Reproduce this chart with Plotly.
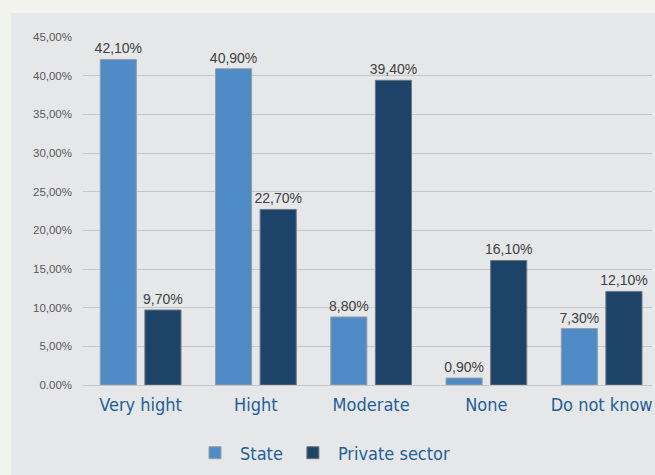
import plotly.graph_objects as go

categories = ["Very hight", "Hight", "Moderate", "None", "Do not know"]
state = [42.1, 40.9, 8.8, 0.9, 7.3]
private = [9.7, 22.7, 39.4, 16.1, 12.1]
y_ticks = [0, 5, 10, 15, 20, 25, 30, 35, 40, 45]
y_tick_text = ["0.00%", "5,00%", "10,00%", "15,00%", "20,00%", "25,00%", "30,00%", "35,00%", "40,00%", "45,00%"]


def fmt(v):
    return f"{v:.2f}%".replace(".", ",")


NARROW = "DejaVu Sans Condensed, Liberation Sans, sans-serif"

fig = go.Figure()
fig.add_trace(go.Bar(
    name="State", x=categories, y=state,
    text=[fmt(v) for v in state], textposition="outside",
    textfont=dict(size=14, color="#404040"), constraintext="none",
    marker=dict(color="#4f8bc6", line=dict(color="#9a9ea3", width=1)),
    cliponaxis=False,
))
fig.add_trace(go.Bar(
    name="Private sector", x=categories, y=private,
    text=[fmt(v) for v in private], textposition="outside",
    textfont=dict(size=14, color="#404040"), constraintext="none",
    marker=dict(color="#1d4369", line=dict(color="#6f7780", width=1)),
    cliponaxis=False,
))

L, T, B = 83, 37, 90
W, H = 655, 475
pw = 652 - L
ph = H - T - B

fig.add_shape(
    type="rect", xref="paper", yref="paper",
    x0=(11 - L) / pw, x1=(W + 5 - L) / pw,
    y0=-(B + 5) / ph, y1=1 + (T - 13) / ph,
    fillcolor="#e6e7e9", line=dict(width=0), layer="below",
)

fig.update_layout(
    width=W, height=H,
    margin=dict(l=L, r=W - 652, t=T, b=B, autoexpand=False),
    paper_bgcolor="#f3f3ee",
    plot_bgcolor="#e6e7e9",
    barmode="group",
    bargap=0.226,
    bargroupgap=0.19,
    font=dict(family="Liberation Sans, Arial, sans-serif"),
    showlegend=True,
    legend=dict(
        orientation="h", x=(323 - L) / pw, xanchor="center", y=-(453 - 385) / ph, yanchor="middle",
        font=dict(size=18, color="#1f5f99", family=NARROW), bgcolor="rgba(0,0,0,0)",
        itemwidth=40,
    ),
    xaxis=dict(
        range=[-0.5, 4.437],
        tickfont=dict(size=18, color="#1f5f99", family=NARROW),
        ticklabelstandoff=7,
        showgrid=False, showline=False, zeroline=False,
    ),
    yaxis=dict(
        range=[0, 45],
        tickvals=y_ticks, ticktext=y_tick_text,
        tickfont=dict(size=11.5, color="#595959"),
        showgrid=True, gridcolor="#c5c6c8", gridwidth=1,
        zeroline=True, zerolinecolor="#c5c6c8", zerolinewidth=1,
        ticklabelstandoff=10,
    ),
)

fig.write_html(
    "out.html",
    config={"displayModeBar": False},
    post_script="document.body.style.margin='0';document.body.style.background='#f3f3ee';",
)
